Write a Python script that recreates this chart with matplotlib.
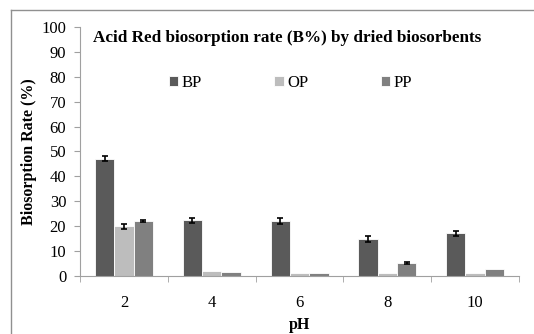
import matplotlib
matplotlib.use("Agg")
import matplotlib.pyplot as plt
import numpy as np

categories = ["2", "4", "6", "8", "10"]
bp = [47.0, 22.3, 22.0, 15.0, 17.2]
op = [20.0, 2.0, 1.2, 1.2, 1.0]
pp = [22.0, 1.5, 1.2, 5.0, 2.6]
bp_err = [1.0, 1.0, 1.2, 1.2, 1.0]
op_err = [1.0, 0.0, 0.0, 0.0, 0.0]
pp_err = [0.5, 0.0, 0.0, 0.4, 0.0]
series = ["BP", "OP", "PP"]
colors = ["#5a5a5a", "#bdbdbd", "#808080"]

plt.rcParams["font.family"] = ["Liberation Serif", "DejaVu Serif"]

fig = plt.figure(figsize=(5.34, 3.34), dpi=100)
ax = fig.add_axes([0.150, 0.174, 0.822, 0.745])

x = np.arange(len(categories))
w = 0.22
for i, (vals, errs, c, name) in enumerate(zip([bp, op, pp], [bp_err, op_err, pp_err], colors, series)):
    pos = x + (i - 1) * w
    ax.bar(pos, vals, width=w, color=c, edgecolor="white", linewidth=0.6, label=name, zorder=2)
    e = np.array(errs)
    mask = e > 0
    ax.errorbar(pos[mask], np.array(vals)[mask], yerr=e[mask], fmt="none",
                ecolor="black", elinewidth=1.2, capsize=2.5, capthick=1.2, zorder=3)

ax.set_xlim(-0.5, len(categories) - 0.5)
ax.set_ylim(0, 100)
ax.set_yticks(np.arange(0, 101, 10))
ax.set_xticks(x)
ax.set_xticklabels(categories)
ax.set_xticks(np.arange(-0.5, len(categories), 1.0), minor=True)
ax.tick_params(axis="x", which="major", length=0, pad=14, labelsize=12)
ax.tick_params(axis="x", which="minor", length=4, color="#a0a0a0", direction="out")
ax.tick_params(axis="y", length=4, color="#a0a0a0", labelsize=12, pad=6)

for s in ["top", "right"]:
    ax.spines[s].set_visible(False)
ax.spines["left"].set_color("#a0a0a0")
ax.spines["bottom"].set_color("#a0a0a0")

ax.set_ylabel("Biosorption Rate (%)", fontweight="bold", fontsize=11.5, labelpad=3)
ax.set_xlabel("pH", fontweight="bold", fontsize=11.5, labelpad=4)

ax.text(0.03, 0.956, "Acid Red biosorption rate (B%) by dried biosorbents",
        transform=ax.transAxes, fontsize=12.3, fontweight="bold", va="center", ha="left")

leg = ax.legend(loc="center", bbox_to_anchor=(0.479, 0.775), ncol=3, frameon=False,
                fontsize=12, handlelength=0.55, handleheight=0.55, handletextpad=0.2,
                columnspacing=4.35)

# outer frame lines (left and top)
fig.add_artist(plt.Line2D([0.021, 0.021], [0.0, 0.97], transform=fig.transFigure, color="#909090", lw=1))
fig.add_artist(plt.Line2D([0.021, 1.0], [0.97, 0.97], transform=fig.transFigure, color="#909090", lw=1))

fig.savefig("out.png", dpi=100)
